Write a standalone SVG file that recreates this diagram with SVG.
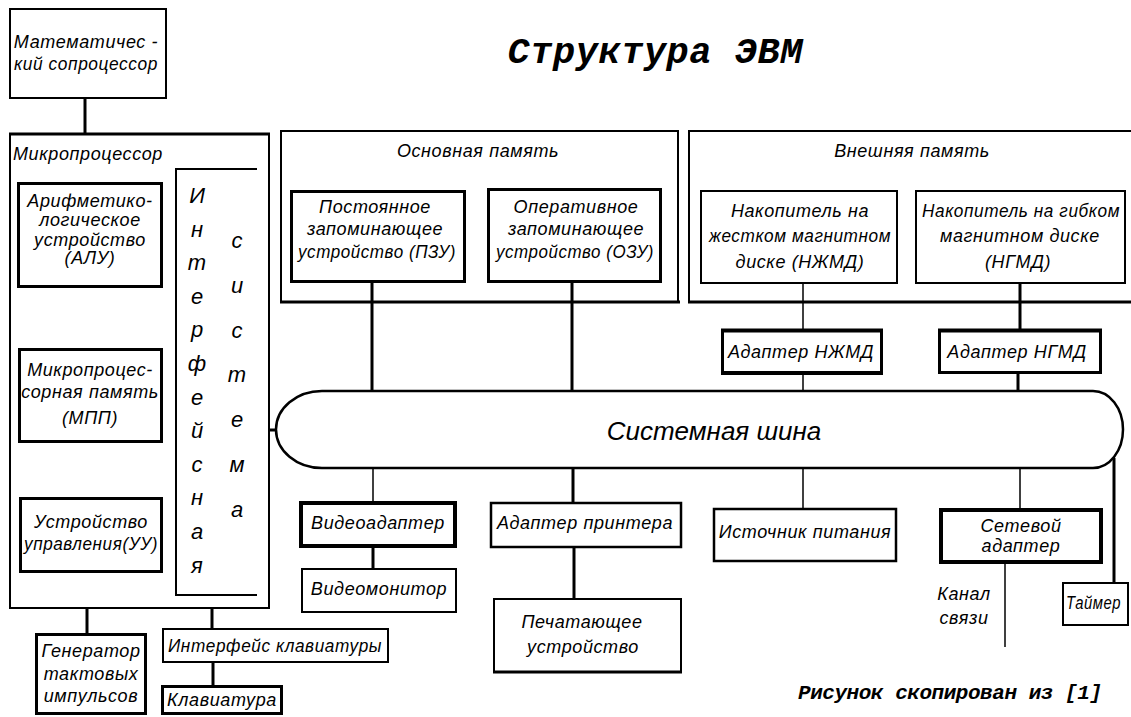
<svg xmlns="http://www.w3.org/2000/svg" width="1131" height="717" viewBox="0 0 1131 717">
<style>
.b1{fill:#fff;stroke:#000;stroke-width:2}
.b2{fill:#fff;stroke:#000;stroke-width:2.5}
.b3{fill:#fff;stroke:#000;stroke-width:3}
.b4{fill:#fff;stroke:#000;stroke-width:4}
.o{fill:none;stroke:#000;stroke-width:2}
.c1{stroke:#000;stroke-width:1.5;fill:none}
.c3{stroke:#000;stroke-width:3;fill:none}
text{font-family:"Liberation Sans",Arial,sans-serif;font-style:italic;fill:#000}
.t{font-size:18px;letter-spacing:0.6px;text-anchor:middle}
.l{font-size:18px;letter-spacing:0.6px}
.v{font-size:22px;text-anchor:middle}
.bus{font-size:26px;text-anchor:middle}
.m{font-family:"Liberation Mono","Courier New",monospace;font-weight:bold}
</style>
<rect width="1131" height="717" fill="#fff"/>

<g id="connectors">
<line class="c3" x1="85" y1="99" x2="85" y2="133"/>
<line class="c3" x1="87" y1="609" x2="87" y2="633"/>
<line class="c3" x1="212" y1="609" x2="212" y2="628"/>
<line class="c3" x1="213" y1="663" x2="213" y2="685"/>
<line class="c3" x1="269" y1="430" x2="277" y2="430"/>
<line class="c3" x1="372" y1="283" x2="372" y2="391"/>
<line class="c3" x1="572" y1="283" x2="572" y2="391"/>
<line class="c1" x1="803" y1="284" x2="803" y2="329"/>
<line class="c1" x1="803" y1="374" x2="803" y2="391"/>
<line class="c3" x1="1020" y1="284" x2="1020" y2="329"/>
<line class="c3" x1="1018" y1="374" x2="1018" y2="391"/>
<line class="c1" x1="373" y1="468" x2="373" y2="501"/>
<line class="c3" x1="373" y1="548" x2="373" y2="568"/>
<line class="c3" x1="573" y1="468" x2="573" y2="502"/>
<line class="c3" x1="574" y1="548" x2="574" y2="598"/>
<line class="c1" x1="803" y1="468" x2="803" y2="508"/>
<line class="c1" x1="1020" y1="468" x2="1020" y2="508"/>
<line class="c1" x1="1005" y1="564" x2="1005" y2="647"/>
<line class="c3" x1="1114" y1="458" x2="1114" y2="582"/>
</g>

<text class="m" x="655" y="63" font-size="37" text-anchor="middle" textLength="295" lengthAdjust="spacing">Структура ЭВМ</text>

<g id="coprocessor">
<rect class="b1" x="10" y="9" width="156" height="89"/>
<text class="t" x="86" y="48">Математичес -</text>
<text class="t" x="86" y="70" textLength="144" lengthAdjust="spacingAndGlyphs">кий сопроцессор</text>
</g>

<g id="microprocessor">
<rect class="o" x="10" y="134" width="259" height="474"/>
<line x1="9" y1="134" x2="270" y2="134" stroke="#000" stroke-width="3"/>
<text class="l" x="13" y="160">Микропроцессор</text>
</g>

<g id="alu">
<rect class="b3" x="18.5" y="183.5" width="143" height="103"/>
<text class="t" x="90" y="207">Арифметико-</text>
<text class="t" x="90" y="226">логическое</text>
<text class="t" x="90" y="246">устройство</text>
<text class="t" x="90" y="264">(АЛУ)</text>
</g>

<g id="mpp">
<rect class="b3" x="19.5" y="349.5" width="142" height="92"/>
<text class="t" x="90" y="376">Микропроцес-</text>
<text class="t" x="90" y="398">сорная память</text>
<text class="t" x="90" y="424">(МПП)</text>
</g>

<g id="cu">
<rect class="b3" x="20.5" y="498.5" width="141" height="73"/>
<text class="t" x="91" y="528">Устройство</text>
<text class="t" x="91" y="550" textLength="134" lengthAdjust="spacingAndGlyphs">управления(УУ)</text>
</g>

<g id="interface-system">
<path class="o" d="M257 169 H176 V595 H257"/>
<text class="v" x="197" y="203">И</text>
<text class="v" x="197" y="237">н</text>
<text class="v" x="197" y="270">т</text>
<text class="v" x="197" y="304">е</text>
<text class="v" x="197" y="337">р</text>
<text class="v" x="197" y="371">ф</text>
<text class="v" x="197" y="405">е</text>
<text class="v" x="197" y="438">й</text>
<text class="v" x="197" y="472">с</text>
<text class="v" x="197" y="505">н</text>
<text class="v" x="197" y="539">а</text>
<text class="v" x="197" y="573">я</text>
<text class="v" x="237" y="248">с</text>
<text class="v" x="237" y="293">и</text>
<text class="v" x="237" y="338">с</text>
<text class="v" x="237" y="382">т</text>
<text class="v" x="237" y="427">е</text>
<text class="v" x="237" y="472">м</text>
<text class="v" x="237" y="517">а</text>
</g>

<g id="main-memory">
<rect class="o" x="281" y="131" width="397" height="171"/>
<line x1="280" y1="302" x2="680" y2="302" stroke="#000" stroke-width="3"/>
<text class="t" x="478" y="157">Основная память</text>
</g>

<g id="rom">
<rect class="b3" x="291.5" y="191.5" width="173" height="90"/>
<text class="t" x="375" y="213">Постоянное</text>
<text class="t" x="375" y="235">запоминающее</text>
<text class="t" x="377" y="258" textLength="158" lengthAdjust="spacingAndGlyphs">устройство (ПЗУ)</text>
</g>

<g id="ram">
<rect class="b3" x="488.5" y="189.5" width="172" height="92"/>
<text class="t" x="576" y="213">Оперативное</text>
<text class="t" x="576" y="235">запоминающее</text>
<text class="t" x="575" y="258" textLength="158" lengthAdjust="spacingAndGlyphs">устройство (ОЗУ)</text>
</g>

<g id="external-memory">
<path class="o" d="M1131 131 H689 V302 H1131"/>
<line x1="688" y1="302" x2="1131" y2="302" stroke="#000" stroke-width="3"/>
<text class="t" x="912" y="157">Внешняя память</text>
</g>

<g id="hdd">
<rect class="b1" x="701" y="191" width="196" height="92"/>
<text class="t" x="800" y="217">Накопитель на</text>
<text class="t" x="800" y="242" textLength="182" lengthAdjust="spacingAndGlyphs">жестком магнитном</text>
<text class="t" x="800" y="268">диске  (НЖМД)</text>
</g>

<g id="fdd">
<rect class="b1" x="916" y="191" width="209" height="92"/>
<text class="t" x="1021" y="217" textLength="198" lengthAdjust="spacingAndGlyphs">Накопитель на гибком</text>
<text class="t" x="1020" y="242">магнитном диске</text>
<text class="t" x="1018" y="268">(НГМД)</text>
</g>

<g id="hdd-adapter">
<rect class="b3" x="722.5" y="330.5" width="159" height="42"/>
<line x1="721" y1="330.5" x2="883" y2="330.5" stroke="#000" stroke-width="4"/>
<line x1="721" y1="373" x2="883" y2="373" stroke="#000" stroke-width="4"/>
<text class="t" x="801" y="358">Адаптер НЖМД</text>
</g>

<g id="fdd-adapter">
<rect class="b3" x="939.5" y="330.5" width="161" height="42"/>
<line x1="938" y1="330.5" x2="1102" y2="330.5" stroke="#000" stroke-width="4"/>
<text class="t" x="1017" y="358">Адаптер НГМД</text>
</g>

<g id="system-bus">
<path d="M322 391 H1093 A30 38.5 0 0 1 1093 468 H322 A46 38.5 0 0 1 322 391 Z" fill="#fff" stroke="#000" stroke-width="2.5"/>
<text class="bus" x="714" y="440">Системная шина</text>
</g>

<g id="video-adapter">
<rect class="b4" x="301" y="503" width="154" height="43"/>
<text class="t" x="378" y="529">Видеоадаптер</text>
</g>

<g id="video-monitor">
<rect class="b1" x="302" y="569" width="154" height="43"/>
<text class="t" x="379" y="595">Видеомонитор</text>
</g>

<g id="printer-adapter">
<rect class="b2" x="491" y="503" width="190" height="44"/>
<text class="t" x="585" y="529">Адаптер принтера</text>
</g>

<g id="printer">
<rect class="b1" x="494" y="599" width="187" height="73"/>
<line x1="493" y1="672" x2="682" y2="672" stroke="#000" stroke-width="3"/>
<text class="t" x="582" y="628">Печатающее</text>
<text class="t" x="583" y="653">устройство</text>
</g>

<g id="power">
<rect class="b2" x="714" y="509" width="182" height="52"/>
<text class="t" x="805" y="538">Источник питания</text>
</g>

<g id="network-adapter">
<rect class="b4" x="941" y="510" width="160" height="52"/>
<text class="t" x="1021" y="532">Сетевой</text>
<text class="t" x="1021" y="552">адаптер</text>
</g>

<g id="channel">
<text class="t" x="964" y="600">Канал</text>
<text class="t" x="964" y="624">связи</text>
</g>

<g id="timer">
<rect class="b1" x="1063" y="583" width="65" height="42"/>
<text class="l" x="1066" y="609" textLength="55" lengthAdjust="spacingAndGlyphs">Таймер</text>
</g>

<g id="clock-generator">
<rect class="b3" x="36.5" y="634.5" width="109" height="79"/>
<text class="t" x="91" y="657">Генератор</text>
<text class="t" x="91" y="680">тактовых</text>
<text class="t" x="91" y="702">импульсов</text>
</g>

<g id="keyboard-interface">
<rect class="b1" x="163" y="629" width="225" height="33"/>
<text class="t" x="275" y="652" textLength="214" lengthAdjust="spacingAndGlyphs">Интерфейс клавиатуры</text>
</g>

<g id="keyboard">
<rect class="b3" x="162.5" y="686.5" width="119" height="27"/>
<text class="t" x="222" y="706">Клавиатура</text>
</g>

<text class="m" x="798" y="699" font-size="21" font-style="italic" textLength="304" lengthAdjust="spacing">Рисунок скопирован из [1]</text>
</svg>
